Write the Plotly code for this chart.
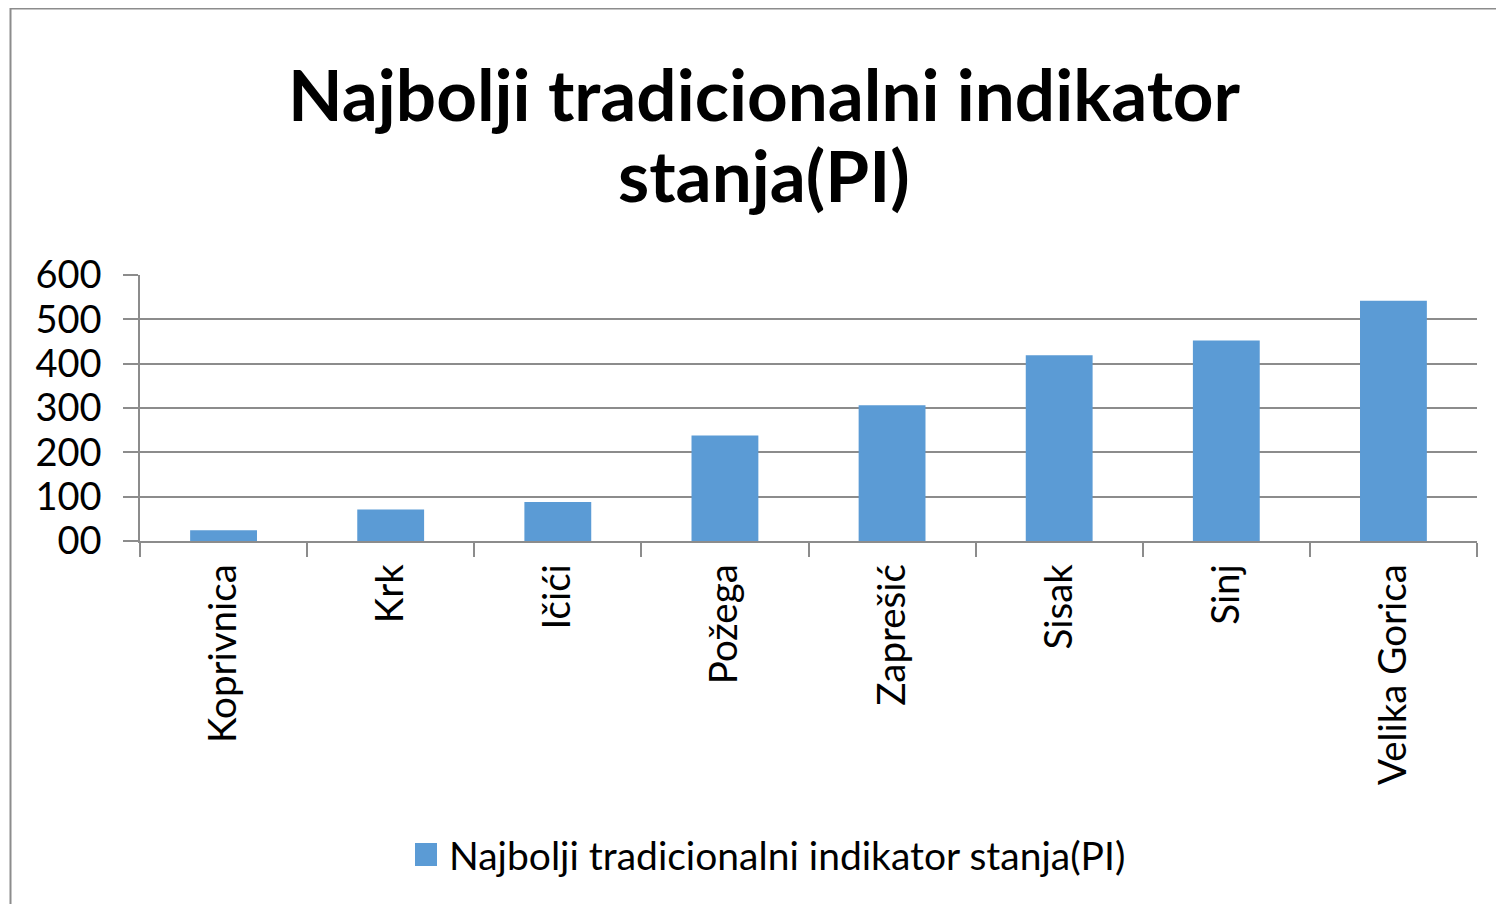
import plotly.graph_objects as go

categories = ["Koprivnica", "Krk", "Ičići", "Požega", "Zaprešić", "Sisak", "Sinj", "Velika Gorica"]
values = [24, 71, 88, 238, 306, 419, 452, 542]
y_tick_values = [0, 100, 200, 300, 400, 500, 600]
y_tick_labels = ["00", "100", "200", "300", "400", "500", "600"]
series_name = "Najbolji tradicionalni indikator stanja(PI)"
title_lines = ["Najbolji tradicionalni indikator", "stanja(PI)"]

# page has an 8px body margin; figure sized to fit inside the viewport
OFF = 8
W, H = 1504 - 2 * OFF, 912 - 2 * OFF
PL, PR, PT, PB = 140, 1477, 275, 541  # plot area in page pixels
L, R, T, B = PL - OFF, W - (PR - OFF), PT - OFF, H - (PB - OFF)
pw = W - L - R
ph = H - T - B


def px(x):
    return (x - OFF - L) / pw


def py(y):
    return (H - B - (y - OFF)) / ph


FONT = "Lato"
BAR_COLOR = "#5B9BD5"
GRID = "#8c8c8c"

fig = go.Figure()
fig.add_trace(go.Bar(
    x=categories, y=values, name=series_name,
    marker=dict(color=BAR_COLOR, line=dict(width=0)),
    showlegend=False,
))

fig.update_layout(
    width=W, height=H,
    margin=dict(l=L, r=R, t=T, b=B, autoexpand=False),
    paper_bgcolor="white", plot_bgcolor="white",
    bargap=0.6,
    font=dict(family=FONT, color="#000000"),
)

# title (two lines placed separately for Excel-like line spacing)
for text, top in zip(title_lines, [49, 130]):
    fig.add_annotation(text=text, xref="paper", yref="paper",
                       x=px(764), y=py(top), xanchor="center", yanchor="top",
                       showarrow=False, align="center",
                       font=dict(family=FONT, size=71, color="#000000", weight="bold"))

fig.update_xaxes(
    type="category",
    tickson="boundaries",
    ticks="outside", ticklen=14, tickcolor=GRID, tickwidth=1.5,
    showline=True, linecolor=GRID, linewidth=1.5,
    showgrid=False,
    tickangle=-90,
    tickfont=dict(family=FONT, size=38.5, color="#000000"),
    ticklabelstandoff=6,
)
fig.update_yaxes(
    range=[0, 600],
    tickmode="array", tickvals=y_tick_values, ticktext=y_tick_labels,
    ticks="outside", ticklen=15, tickcolor=GRID, tickwidth=1.5,
    showline=True, linecolor=GRID, linewidth=1.5,
    showgrid=True, gridcolor=GRID, gridwidth=1.5,
    zeroline=False,
    tickfont=dict(family=FONT, size=38, color="#000000"),
    ticklabelstandoff=14,
)

# chart area border
fig.add_shape(type="rect", xref="paper", yref="paper",
              x0=px(10.5), x1=px(1530), y0=py(940), y1=py(8.5),
              line=dict(color="#8c8c8c", width=2), fillcolor="rgba(0,0,0,0)",
              layer="below")

# legend (manual)
fig.add_shape(type="rect", xref="paper", yref="paper",
              x0=px(415), x1=px(437), y0=py(866), y1=py(843),
              line=dict(width=0), fillcolor=BAR_COLOR)
fig.add_annotation(text=series_name, xref="paper", yref="paper",
                   x=px(447), y=py(855), xanchor="left", yanchor="middle",
                   showarrow=False,
                   font=dict(family=FONT, size=39, color="#000000"))

fig.write_html("out.html")
